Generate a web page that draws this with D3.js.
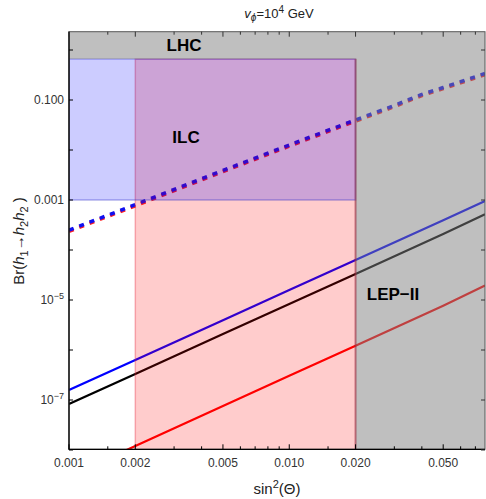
<!DOCTYPE html>
<html>
<head>
<meta charset="utf-8">
<style>
  body { margin: 0; background: #fff; }
  text { font-family: "Liberation Sans", Arial, sans-serif; }
</style>
</head>
<body>
<div id="chart"></div>
<script src="https://cdn.jsdelivr.net/npm/d3@7"></script>
<script>
// sin^2(theta) sample points
var sinSq = [0.001, 0.002, 0.005, 0.01, 0.02, 0.05, 0.0774];
var brBlue = [1.58e-7, 6.3e-7, 3.95e-6, 1.58e-5, 6.3e-5, 3.95e-4, 9.5e-4];
var brBlack = [8.3e-8, 3.3e-7, 2.1e-6, 8.3e-6, 3.3e-5, 2.1e-4, 5.2e-4];
var brRed = [3.0e-9, 1.2e-8, 7.6e-8, 3.05e-7, 1.22e-6, 7.7e-6, 1.95e-5];

// dashed curve
var dashX = [0.001, 0.002, 0.005, 0.01, 0.02, 0.03, 0.04, 0.05, 0.0774];
var dashY = [2.5e-4, 8.1e-4, 3.9e-3, 0.0126, 0.040, 0.078, 0.129, 0.178, 0.34];

// bounds (ILC / LEP / LHC regions)
var ilcX = [0.001, 0.02], ilcY = [0.001, 0.66];
var lepX = [0.002, 0.02];
var lhcY = 0.66;

var xTickVals = [0.001, 0.0015, 0.002, 0.003, 0.004, 0.005, 0.006, 0.007, 0.008, 0.009,
                 0.01, 0.015, 0.02, 0.03, 0.04, 0.05, 0.06, 0.07];
var xLabels = {0.001: "0.001", 0.002: "0.002", 0.005: "0.005", 0.01: "0.010", 0.02: "0.020", 0.05: "0.050"};
var yTickVals = [1e-8, 1e-7, 1e-6, 1e-5, 1e-4, 1e-3, 1e-2, 1e-1, 1];

var W = 486, H = 499;
var L = 69, R = 485, T = 31.7, B = 449.3;

var svg = d3.select("#chart").append("svg").attr("width", W).attr("height", H);

var x = d3.scaleLog().domain([0.001, 0.0774]).range([L, R]);
var y = d3.scaleLog().domain([Math.pow(10, -7.986), Math.pow(10, 0.366)]).range([B, T]);

svg.append("clipPath").attr("id", "clip")
  .append("rect").attr("x", L).attr("y", T).attr("width", R - L).attr("height", B - T);

var g = svg.append("g").attr("clip-path", "url(#clip)");

// lines
var line = d3.line().x(function(d) { return x(d[0]); }).y(function(d) { return y(d[1]); });
var curve = d3.line().curve(d3.curveMonotoneX).x(function(d) { return x(d[0]); }).y(function(d) { return y(d[1]); });

g.append("path").datum(d3.zip(dashX, dashY)).attr("d", curve)
  .attr("fill", "none").attr("stroke", "#ff2020").attr("stroke-width", 3.5)
  .attr("stroke-dasharray", "5,6").attr("transform", "translate(0,1.2)");
g.append("path").datum(d3.zip(dashX, dashY)).attr("d", curve)
  .attr("fill", "none").attr("stroke", "#1010f0").attr("stroke-width", 3.5)
  .attr("stroke-dasharray", "5,6");

[[brBlue, "#0000ff"], [brBlack, "#000000"], [brRed, "#ff0000"]].forEach(function(s) {
  g.append("path").datum(d3.zip(sinSq, s[0])).attr("d", line)
    .attr("fill", "none").attr("stroke", s[1]).attr("stroke-width", 2.2);
});

// LEP-II box (pink)
g.append("rect")
  .attr("x", x(lepX[0])).attr("y", y(lhcY))
  .attr("width", x(lepX[1]) - x(lepX[0])).attr("height", B + 5 - y(lhcY))
  .attr("fill", "rgba(255,0,0,0.2)")
  .attr("stroke", "rgba(230,40,60,0.35)").attr("stroke-width", 1.5);

// ILC box (blue)
g.append("rect")
  .attr("x", x(ilcX[0])).attr("y", y(ilcY[1]))
  .attr("width", x(ilcX[1]) - x(ilcX[0])).attr("height", y(ilcY[0]) - y(ilcY[1]))
  .attr("fill", "rgba(0,0,255,0.2)")
  .attr("stroke", "rgba(40,40,200,0.35)").attr("stroke-width", 1.5);

// excluded region (gray)
var gx = x(ilcX[1]), gy = y(lhcY);
g.append("path")
  .attr("d", "M" + L + "," + T + "H" + R + "V" + B + "H" + gx + "V" + gy + "H" + L + "Z")
  .attr("fill", "rgba(128,128,128,0.5)");
g.append("line").attr("x1", gx).attr("x2", gx).attr("y1", gy).attr("y2", B)
  .attr("stroke", "rgba(140,40,60,0.45)").attr("stroke-width", 2);

// frame
svg.append("rect").attr("x", L).attr("y", T).attr("width", R - L).attr("height", B - T)
  .attr("fill", "none").attr("stroke", "#555").attr("stroke-width", 1);
svg.append("line").attr("x1", L).attr("x2", L).attr("y1", T).attr("y2", B + 0.5).attr("stroke", "#000").attr("stroke-width", 1.3);
svg.append("line").attr("x1", L).attr("x2", R).attr("y1", B).attr("y2", B).attr("stroke", "#000").attr("stroke-width", 1.3);

// x ticks (bottom & top, inward)
xTickVals.forEach(function(v) {
  var major = xLabels[v] !== undefined;
  var len = major ? 5 : 3;
  svg.append("line").attr("x1", x(v)).attr("x2", x(v)).attr("y1", B).attr("y2", B - len).attr("stroke", "#000");
  svg.append("line").attr("x1", x(v)).attr("x2", x(v)).attr("y1", T).attr("y2", T + len).attr("stroke", "#333");
  if (major) {
    svg.append("text").attr("x", x(v)).attr("y", B + 18).attr("text-anchor", "middle")
      .attr("font-size", 12).attr("fill", "#333").text(xLabels[v]);
  }
});

// y ticks (left & right, inward)
yTickVals.forEach(function(v) {
  var yy = y(v);
  svg.append("line").attr("x1", L).attr("x2", L + 4).attr("y1", yy).attr("y2", yy).attr("stroke", "#000");
  svg.append("line").attr("x1", R).attr("x2", R - 4).attr("y1", yy).attr("y2", yy).attr("stroke", "#333");
});
// y labels
var yLab = [[0.1, "0.100"], [0.001, "0.001"]];
yLab.forEach(function(d) {
  svg.append("text").attr("x", 64).attr("y", y(d[0]) + 4).attr("text-anchor", "end")
    .attr("font-size", 12).attr("fill", "#333").text(d[1]);
});
[[1e-5, "\u22125"], [1e-7, "\u22127"]].forEach(function(d) {
  var t = svg.append("text").attr("x", 64).attr("y", y(d[0]) + 4).attr("text-anchor", "end")
    .attr("font-size", 12).attr("fill", "#333");
  t.append("tspan").text("10");
  t.append("tspan").attr("dy", -5).attr("font-size", 9).text(d[1]);
});

// region labels
function bold(tx, ty, s) {
  svg.append("text").attr("x", tx).attr("y", ty).attr("text-anchor", "middle")
    .attr("font-size", 17).attr("font-weight", "bold").attr("fill", "#000").text(s);
}
bold(184, 51, "LHC");
bold(186, 143, "ILC");
bold(393, 300, "LEP\u2212II");

// title
var title = svg.append("text").attr("x", 279).attr("y", 18).attr("text-anchor", "middle")
  .attr("font-size", 13).attr("fill", "#222");
title.append("tspan").attr("font-style", "italic").text("v");
title.append("tspan").attr("font-style", "italic").attr("font-size", 10).attr("dy", 3).text("\u03d5");
title.append("tspan").attr("dy", -3).text("=10");
title.append("tspan").attr("font-size", 10).attr("dy", -5).text("4");
title.append("tspan").attr("dy", 5).text(" GeV");

// x axis title
var xt = svg.append("text").attr("x", 277).attr("y", 494).attr("text-anchor", "middle")
  .attr("font-size", 15).attr("fill", "#222");
xt.append("tspan").text("sin");
xt.append("tspan").attr("font-size", 11).attr("dy", -6).text("2");
xt.append("tspan").attr("dy", 6).text("(\u0398)");

// y axis title
var yt = svg.append("text").attr("transform", "translate(24,241) rotate(-90)")
  .attr("text-anchor", "middle").attr("font-size", 15).attr("fill", "#222");
yt.append("tspan").text("Br(");
yt.append("tspan").attr("font-style", "italic").text("h");
yt.append("tspan").attr("font-size", 11).attr("dy", 4).text("1");
yt.append("tspan").attr("dy", -4).text("\u2192");
yt.append("tspan").attr("font-style", "italic").text("h");
yt.append("tspan").attr("font-size", 11).attr("dy", 4).text("2");
yt.append("tspan").attr("dy", -4).attr("font-style", "italic").text("h");
yt.append("tspan").attr("font-size", 11).attr("dy", 4).text("2");
yt.append("tspan").attr("dy", -4).text(" )");
</script>
</body>
</html>
